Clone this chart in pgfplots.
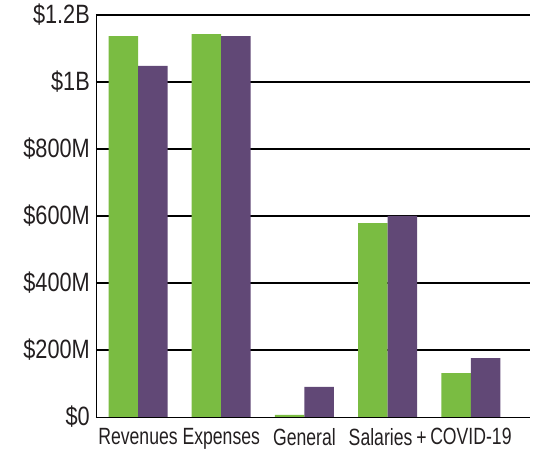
\documentclass[border=0pt]{standalone}
\usepackage{pgfplots}
\pgfplotsset{compat=1.18}
\usepackage{fontspec}
\setmainfont{Liberation Sans}
\newfontfamily\yfont{Liberation Sans}[FakeStretch=0.82]
\newfontfamily\xfont{Liberation Sans}[FakeStretch=0.75]
\definecolor{bgreen}{RGB}{122,188,66}
\definecolor{bpurple}{RGB}{97,72,118}
\definecolor{txt}{RGB}{35,31,32}
\begin{document}
\begin{tikzpicture}
\begin{axis}[
  scale only axis, width=434pt, height=402pt,
  xmin=-0.505, xmax=4.71, ymin=0, ymax=1200,
  axis x line=bottom, axis y line=left,
  axis line style={-, black, line width=0.8pt},
  xtick={0,1,2,3,4},
  xticklabels={Revenues,Expenses,General,Salaries\,+,COVID-19},
  major tick length=0pt,
  x tick label style={font=\xfont\fontsize{23.5}{23.5}\selectfont, text=txt, anchor=north, inner sep=0pt, yshift=-11pt},
  ytick={200,400,600,800,1000,1200},
  yticklabels={\$200M,\$400M,\$600M,\$800M,\$1B,\$1.2B},
  y tick label style={font=\yfont\fontsize{26.5}{26.5}\selectfont, text=txt, anchor=east, inner sep=0pt, xshift=-6pt},
  extra y ticks={0}, extra y tick labels={\$0}, extra y tick style={grid=none},
  ymajorgrids, grid style={black, line width=1.5pt},
  ybar=0pt, bar width=29.5pt,
]
\addplot[fill=bgreen, draw=none] coordinates {(0,1137) (1,1143) (2,6) (3,579) (4,131)};
\addplot[fill=bpurple, draw=none] coordinates {(0,1048) (1,1137) (2,90) (3,600) (4,176)};
\end{axis}
\pgfresetboundingbox
\path[use as bounding box] ([shift={(-96pt,-37pt)}]current axis.south west) rectangle ([shift={(446pt,417pt)}]current axis.south west);
\end{tikzpicture}
\end{document}
